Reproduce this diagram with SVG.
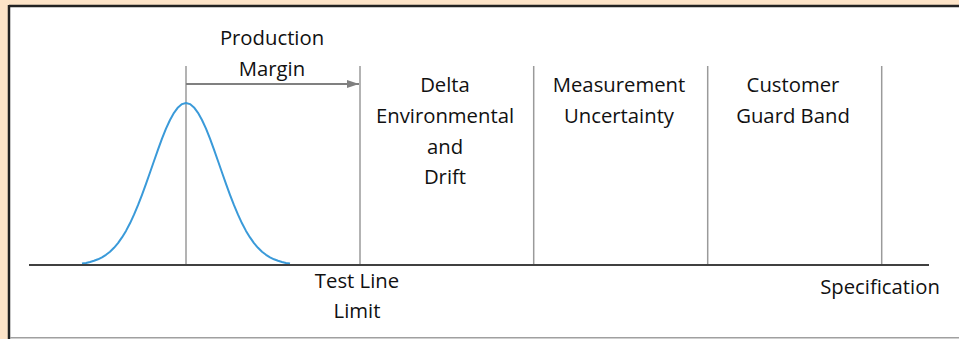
<svg xmlns="http://www.w3.org/2000/svg" width="959" height="339" viewBox="0 0 959 339">
  <defs>
    <style>
      .t { font-family: "Open Sans", "Liberation Sans", sans-serif; font-size: 20.3px; fill: #111111; text-anchor: middle; }
      .v { stroke: #9a9a9a; stroke-width: 1.5; }
    </style>
    <marker id="ah" markerWidth="12" markerHeight="8" refX="12" refY="4" orient="auto" markerUnits="userSpaceOnUse">
      <path d="M0,0 L12,4 L0,8 Z" fill="#808080"/>
    </marker>
  </defs>
  <rect x="0" y="0" width="959" height="339" fill="#FDE4C8"/>
  <rect x="9" y="7" width="950" height="332" fill="#ffffff"/>
  <line x1="9" y1="6" x2="959" y2="6" stroke="#222222" stroke-width="2.5"/>
  <line x1="9" y1="5" x2="9" y2="339" stroke="#222222" stroke-width="2.5"/>
  <line x1="10" y1="337.8" x2="959" y2="337.8" stroke="#a0a0a0" stroke-width="1.5"/>

  <g id="gridlines">
    <line class="v" x1="186" y1="66" x2="186" y2="265"/>
    <line class="v" x1="360" y1="66" x2="360" y2="265"/>
    <line class="v" x1="533.7" y1="66" x2="533.7" y2="265"/>
    <line class="v" x1="707.7" y1="66" x2="707.7" y2="265"/>
    <line class="v" x1="881.7" y1="66" x2="881.7" y2="265"/>
  </g>

  <g id="curve">
    <polyline fill="none" stroke="#3A9AD9" stroke-width="2" stroke-linejoin="round" points="82,263.5 86,262.9 90,262 94,260.8 98,259.3 102,257.3 106,254.8 110,251.7 114,247.8 118,243.1 122,237.4 126,230.9 130,223.3 134,214.7 138,205.2 142,194.9 146,183.9 150,172.5 154,161 158,149.6 162,138.7 166,128.7 170,120 174,112.8 178,107.4 182,104.1 186,103 190,104.1 194,107.4 198,112.8 202,120 206,128.7 210,138.7 214,149.6 218,161 222,172.5 226,183.9 230,194.9 234,205.2 238,214.7 242,223.3 246,230.9 250,237.4 254,243.1 258,247.8 262,251.7 266,254.8 270,257.3 274,259.3 278,260.8 282,262 286,262.9 290,263.5"/>
  </g>

  <g id="connectors">
    <line x1="186" y1="84" x2="359" y2="84" stroke="#808080" stroke-width="2" marker-end="url(#ah)"/>
    <line id="axis" x1="29" y1="265" x2="929" y2="265" stroke="#404040" stroke-width="2.2"/>
  </g>

  <g id="production-margin">
    <text class="t" x="272" y="45">Production</text>
    <text class="t" x="272" y="76">Margin</text>
  </g>
  <g id="delta-env">
    <text class="t" x="445" y="92">Delta</text>
    <text class="t" x="445" y="123">Environmental</text>
    <text class="t" x="445" y="154">and</text>
    <text class="t" x="445" y="184">Drift</text>
  </g>
  <g id="measurement">
    <text class="t" x="619" y="92">Measurement</text>
    <text class="t" x="619" y="123">Uncertainty</text>
  </g>
  <g id="customer">
    <text class="t" x="793" y="92">Customer</text>
    <text class="t" x="793" y="123">Guard Band</text>
  </g>
  <g id="test-line">
    <text class="t" x="357" y="288">Test Line</text>
    <text class="t" x="357" y="318">Limit</text>
  </g>
  <g id="specification">
    <text class="t" x="880" y="294">Specification</text>
  </g>
</svg>
